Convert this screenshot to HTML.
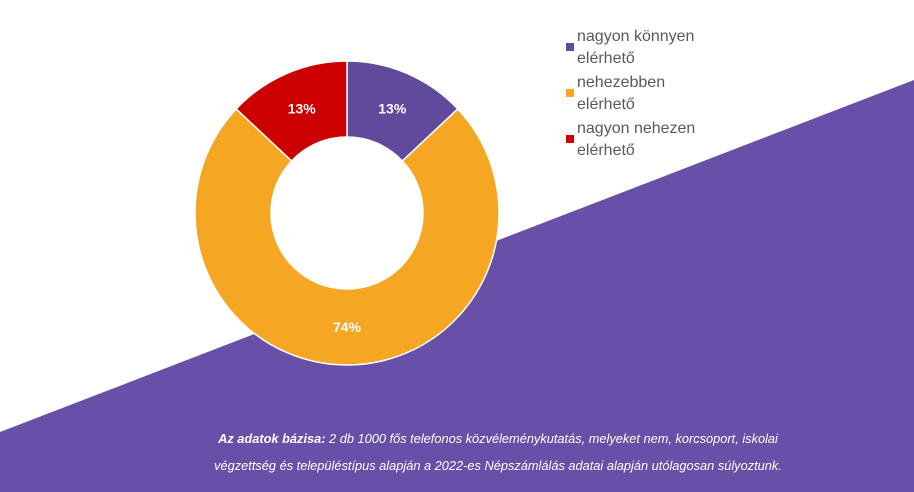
<!DOCTYPE html>
<html><head><meta charset="utf-8"><style>
body{margin:0;width:914px;height:492px;overflow:hidden;background:#fff;font-family:"Liberation Sans",sans-serif}
#wrap{position:relative;width:914px;height:492px}
svg{position:absolute;left:0;top:0}
.leg{position:absolute;left:577px;font-size:16px;line-height:22px;color:#595959}
.sw{position:absolute;left:566px;width:8px;height:8px}
#note{position:absolute;left:100px;width:796px;top:425px;text-align:center;color:#fff;font-style:italic;font-size:12.8px;line-height:27px}
</style></head><body><div id="wrap">
<svg width="914" height="492">
<polygon points="0,432 914,80 914,492 0,492" fill="#684fa8"/>
<g id="pie"></g>
</svg>
<div class="sw" style="top:43px;background:#5f4a9c"></div>
<div class="leg" style="top:26px">nagyon könnyen<br>elérhető</div>
<div class="sw" style="top:89px;background:#f5a623"></div>
<div class="leg" style="top:72px">nehezebben<br>elérhető</div>
<div class="sw" style="top:135px;background:#cc0000"></div>
<div class="leg" style="top:118px">nagyon nehezen<br>elérhető</div>
<div id="note"><b>Az adatok bázisa:</b> 2 db 1000 fős telefonos közvéleménykutatás, melyeket nem, korcsoport, iskolai<br>végzettség és településtípus alapján a 2022-es Népszámlálás adatai alapján utólagosan súlyoztunk.</div>
</div>
<script>
const categories=["nagyon könnyen elérhető","nehezebben elérhető","nagyon nehezen elérhető"];
const values=[13,74,13];
const labels=["13%","74%","13%"];
const colors=["#5f4a9c","#f5a623","#cc0000"];
const cx=347,cy=213,R=152,r=76,ns="http://www.w3.org/2000/svg";
const g=document.getElementById('pie');
const tot=values.reduce((a,b)=>a+b,0);
let a0=0;
function pt(a,rad){return [cx+rad*Math.sin(a),cy-rad*Math.cos(a)];}
values.forEach((v,i)=>{
 const a1=a0+v/tot*2*Math.PI, lg=(a1-a0)>Math.PI?1:0;
 const [x1,y1]=pt(a0,R),[x2,y2]=pt(a1,R),[x3,y3]=pt(a1,r),[x4,y4]=pt(a0,r);
 const p=document.createElementNS(ns,'path');
 p.setAttribute('d',`M${x1},${y1}A${R},${R} 0 ${lg} 1 ${x2},${y2}L${x3},${y3}A${r},${r} 0 ${lg} 0 ${x4},${y4}Z`);
 p.setAttribute('fill',colors[i]);p.setAttribute('stroke','#fff');p.setAttribute('stroke-width','1.5');
 
 
 g.appendChild(p);
 const [lx,ly]=pt((a0+a1)/2,(R+r)/2);
 const t=document.createElementNS(ns,'text');
 t.setAttribute('x',lx);t.setAttribute('y',ly+5);t.setAttribute('text-anchor','middle');
 t.setAttribute('fill','#fff');t.setAttribute('font-weight','bold');t.setAttribute('font-size','14');
 t.setAttribute('font-family','Liberation Sans, sans-serif');t.textContent=labels[i];
 
 
 g.appendChild(t);
 a0=a1;
});
</script></body></html>
